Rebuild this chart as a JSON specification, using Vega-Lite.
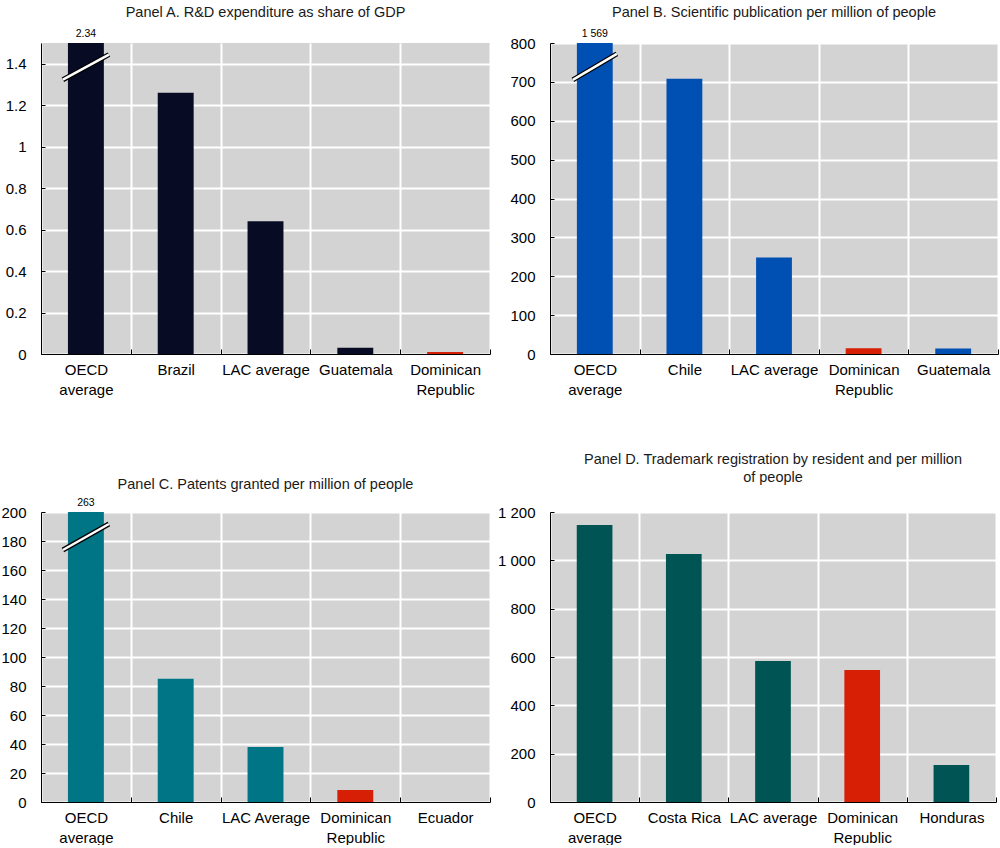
{
  "$schema": "https://vega.github.io/schema/vega-lite/v6.json",
  "padding": {"left": 0, "top": 4, "right": 2, "bottom": 0},
  "background": "white",
  "config": {
    "font": "Liberation Sans",
    "view": {"fill": "#d3d3d3", "stroke": null},
    "title": {"fontSize": 14.5, "fontWeight": "normal", "color": "#1a1a1a", "anchor": "middle", "frame": "group", "offset": 9, "font": "Liberation Sans"},
    "axis": {"labelFont": "Liberation Sans", "labelFontSize": 15, "labelColor": "black", "domainColor": "black", "domainWidth": 1, "tickColor": "black", "gridColor": "white", "gridWidth": 2, "title": null},
    "axisX": {"labelAngle": 0, "tickBand": "extent", "grid": true, "tickSize": -5, "labelPadding": 13, "labelLineHeight": 20},
    "axisY": {"grid": true, "tickSize": -4, "labelPadding": 19, "tickCount": 20, "labelOverlap": false}
  },
  "bounds": "flush",
  "columns": 2,
  "align": "each",
  "spacing": {"row": 158, "column": 60},
  "concat": [
    {
      "width": 449, "height": 311,
      "title": "Panel A. R&D expenditure as share of GDP",
      "layer": [
        {
          "data": {"values": [
            {"country": "OECD average", "value": 2.34},
            {"country": "Brazil", "value": 1.26},
            {"country": "LAC average", "value": 0.64},
            {"country": "Guatemala", "value": 0.03},
            {"country": "Dominican Republic", "value": 0.01}
          ]},
          "mark": {"type": "bar", "width": {"band": 0.4}},
          "encoding": {
            "x": {"field": "country", "type": "nominal", "sort": null, "scale": {"domain": ["OECD average", "Brazil", "LAC average", "Guatemala", "Dominican Republic"], "paddingInner": 0, "paddingOuter": 0},
              "axis": {"labelExpr": "datum.label == 'OECD average' ? ['OECD','average'] : datum.label == 'Dominican Republic' ? ['Dominican','Republic'] : datum.label"}},
            "y": {"field": "value", "type": "quantitative", "scale": {"domain": [0, 1.5], "nice": false, "clamp": true},
              "axis": {"values": [0, 0.2, 0.4, 0.6, 0.8, 1, 1.2, 1.4], "format": "~g"}},
            "color": {"condition": {"test": "datum.country === 'Dominican Republic'", "value": "#d71f06"}, "value": "#070c24"}
          }
        },
        {
          "data": {"values": [{"country": "OECD average", "value": 2.34, "label": "2.34", "b1": 1.323, "b2": 1.444}]},
          "layer": [
            {"mark": {"type": "rule", "color": "black", "strokeWidth": 5, "xOffset": -23, "x2Offset": 23},
             "encoding": {"x": {"field": "country", "type": "nominal", "sort": null}, "x2": {"field": "country"}, "y": {"field": "b1", "type": "quantitative"}, "y2": {"field": "b2"}}},
            {"mark": {"type": "rule", "color": "white", "strokeWidth": 2.5, "xOffset": -23, "x2Offset": 23},
             "encoding": {"x": {"field": "country", "type": "nominal", "sort": null}, "x2": {"field": "country"}, "y": {"field": "b1", "type": "quantitative"}, "y2": {"field": "b2"}}},
            {"mark": {"type": "text", "baseline": "bottom", "dy": -4, "fontSize": 10.5, "color": "black"},
             "encoding": {"x": {"field": "country", "type": "nominal", "sort": null}, "y": {"field": "value", "type": "quantitative"}, "text": {"field": "label"}}}
          ]
        }
      ]
    },
    {
      "width": 448, "height": 311,
      "title": "Panel B. Scientific publication per million of people",
      "layer": [
        {
          "data": {"values": [
            {"country": "OECD average", "value": 1569},
            {"country": "Chile", "value": 708},
            {"country": "LAC average", "value": 248},
            {"country": "Dominican Republic", "value": 15},
            {"country": "Guatemala", "value": 14}
          ]},
          "mark": {"type": "bar", "width": {"band": 0.4}},
          "encoding": {
            "x": {"field": "country", "type": "nominal", "sort": null, "scale": {"domain": ["OECD average", "Chile", "LAC average", "Dominican Republic", "Guatemala"], "paddingInner": 0, "paddingOuter": 0},
              "axis": {"labelExpr": "datum.label == 'OECD average' ? ['OECD','average'] : datum.label == 'Dominican Republic' ? ['Dominican','Republic'] : datum.label"}},
            "y": {"field": "value", "type": "quantitative", "scale": {"domain": [0, 800], "nice": false, "clamp": true},
              "axis": {"values": [0, 100, 200, 300, 400, 500, 600, 700, 800]}},
            "color": {"condition": {"test": "datum.country === 'Dominican Republic'", "value": "#d71f06"}, "value": "#0050b4"}
          }
        },
        {
          "data": {"values": [{"country": "OECD average", "value": 1569, "label": "1 569", "b1": 705, "b2": 772}]},
          "layer": [
            {"mark": {"type": "rule", "color": "black", "strokeWidth": 5, "xOffset": -22, "x2Offset": 22},
             "encoding": {"x": {"field": "country", "type": "nominal", "sort": null}, "x2": {"field": "country"}, "y": {"field": "b1", "type": "quantitative"}, "y2": {"field": "b2"}}},
            {"mark": {"type": "rule", "color": "white", "strokeWidth": 2.5, "xOffset": -22, "x2Offset": 22},
             "encoding": {"x": {"field": "country", "type": "nominal", "sort": null}, "x2": {"field": "country"}, "y": {"field": "b1", "type": "quantitative"}, "y2": {"field": "b2"}}},
            {"mark": {"type": "text", "baseline": "bottom", "dy": -4, "fontSize": 10.5, "color": "black"},
             "encoding": {"x": {"field": "country", "type": "nominal", "sort": null}, "y": {"field": "value", "type": "quantitative"}, "text": {"field": "label"}}}
          ]
        }
      ]
    },
    {
      "width": 449, "height": 290,
      "title": {"text": "Panel C. Patents granted per million of people", "offset": 6},
      "layer": [
        {
          "data": {"values": [
            {"country": "OECD average", "value": 263},
            {"country": "Chile", "value": 85},
            {"country": "LAC Average", "value": 38},
            {"country": "Dominican Republic", "value": 8.3},
            {"country": "Ecuador", "value": 0}
          ]},
          "mark": {"type": "bar", "width": {"band": 0.4}},
          "encoding": {
            "x": {"field": "country", "type": "nominal", "sort": null, "scale": {"domain": ["OECD average", "Chile", "LAC Average", "Dominican Republic", "Ecuador"], "paddingInner": 0, "paddingOuter": 0},
              "axis": {"labelExpr": "datum.label == 'OECD average' ? ['OECD','average'] : datum.label == 'Dominican Republic' ? ['Dominican','Republic'] : datum.label"}},
            "y": {"field": "value", "type": "quantitative", "scale": {"domain": [0, 200], "nice": false, "clamp": true},
              "axis": {"values": [0, 20, 40, 60, 80, 100, 120, 140, 160, 180, 200]}},
            "color": {"condition": {"test": "datum.country === 'Dominican Republic'", "value": "#d71f06"}, "value": "#007586"}
          }
        },
        {
          "data": {"values": [{"country": "OECD average", "value": 263, "label": "263", "b1": 173.8, "b2": 191.7}]},
          "layer": [
            {"mark": {"type": "rule", "color": "black", "strokeWidth": 5, "xOffset": -23, "x2Offset": 23},
             "encoding": {"x": {"field": "country", "type": "nominal", "sort": null}, "x2": {"field": "country"}, "y": {"field": "b1", "type": "quantitative"}, "y2": {"field": "b2"}}},
            {"mark": {"type": "rule", "color": "white", "strokeWidth": 2.5, "xOffset": -23, "x2Offset": 23},
             "encoding": {"x": {"field": "country", "type": "nominal", "sort": null}, "x2": {"field": "country"}, "y": {"field": "b1", "type": "quantitative"}, "y2": {"field": "b2"}}},
            {"mark": {"type": "text", "baseline": "bottom", "dy": -4, "fontSize": 10.5, "color": "black"},
             "encoding": {"x": {"field": "country", "type": "nominal", "sort": null}, "y": {"field": "value", "type": "quantitative"}, "text": {"field": "label"}}}
          ]
        }
      ]
    },
    {
      "width": 446, "height": 290,
      "title": {"text": ["Panel D. Trademark registration by resident and per million", "of people"], "offset": 20, "lineHeight": 18},
      "data": {"values": [
        {"country": "OECD average", "value": 1146},
        {"country": "Costa Rica", "value": 1026},
        {"country": "LAC average", "value": 583},
        {"country": "Dominican Republic", "value": 546},
        {"country": "Honduras", "value": 153}
      ]},
      "mark": {"type": "bar", "width": {"band": 0.4}},
      "encoding": {
        "x": {"field": "country", "type": "nominal", "sort": null, "scale": {"paddingInner": 0, "paddingOuter": 0},
          "axis": {"labelExpr": "datum.label == 'OECD average' ? ['OECD','average'] : datum.label == 'Dominican Republic' ? ['Dominican','Republic'] : datum.label"}},
        "y": {"field": "value", "type": "quantitative", "scale": {"domain": [0, 1200], "nice": false},
          "axis": {"values": [0, 200, 400, 600, 800, 1000, 1200], "labelExpr": "replace(format(datum.value, ','), ',', ' ')"}},
        "color": {"condition": {"test": "datum.country === 'Dominican Republic'", "value": "#d71f06"}, "value": "#005453"}
      }
    }
  ]
}
